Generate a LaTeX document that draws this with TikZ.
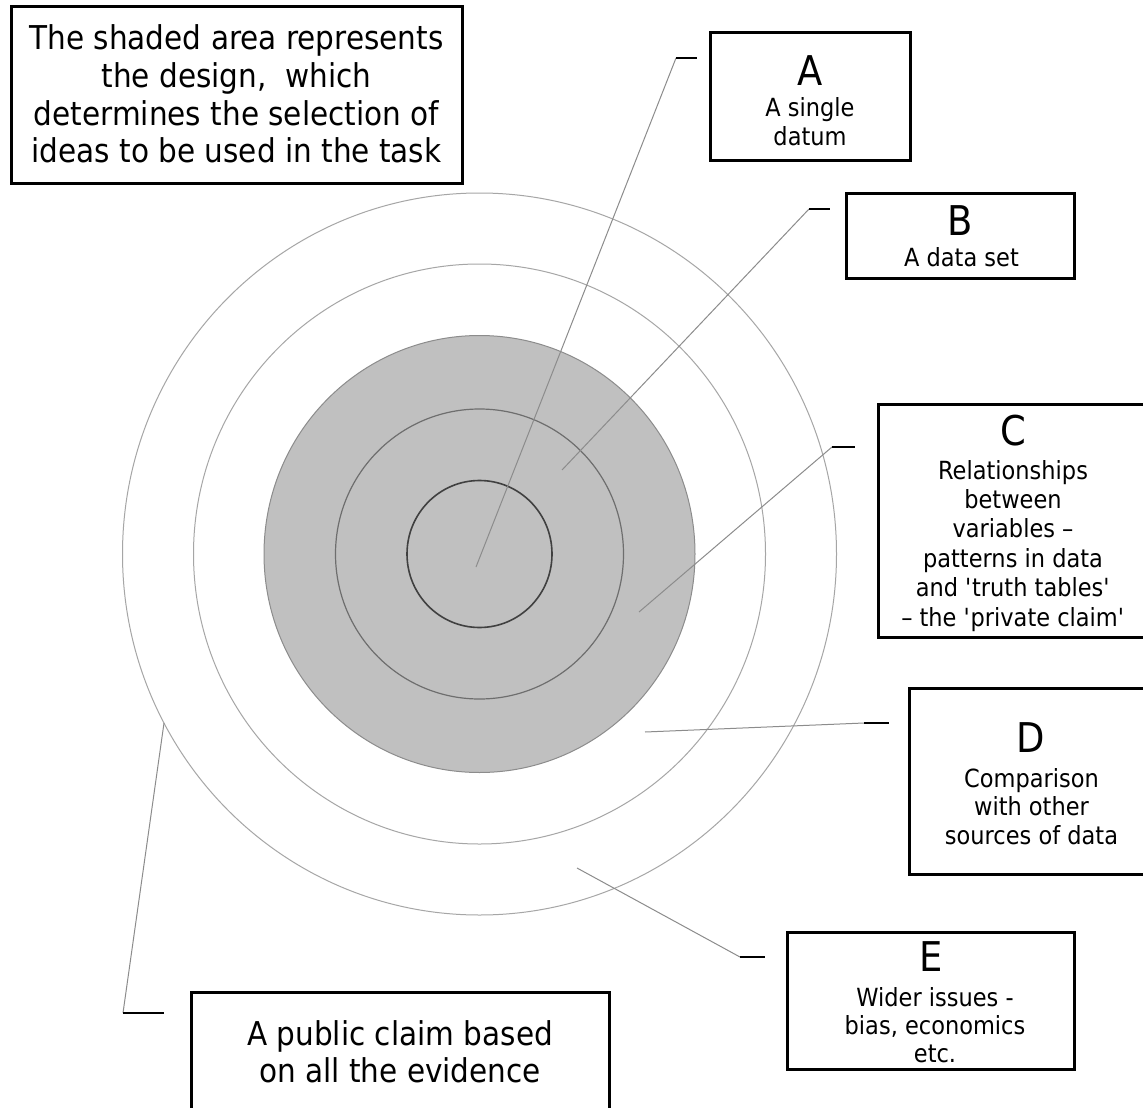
\documentclass[tikz,border=0pt]{standalone}
\usepackage{fontspec}
\setmainfont{DejaVu Sans}[FakeStretch=0.9]
\definecolor{ringouter}{HTML}{A6A6A6}
\definecolor{ringshade}{HTML}{8C8C8C}
\definecolor{ringmid}{HTML}{6E6E6E}
\definecolor{ringinner}{HTML}{404040}
\definecolor{shadefill}{HTML}{C0C0C0}
\definecolor{leadercol}{HTML}{8C8C8C}
\tikzset{
  labelbox/.style={draw=black, line width=3pt, inner sep=0pt, fill=none},
  leader/.style={draw=leadercol, line width=1pt},
  tickmark/.style={draw=black, line width=2.8pt},
  bigtxt/.style={anchor=base, inner sep=0pt, font=\fontsize{32.8}{37}\selectfont},
  lettertxt/.style={anchor=base, inner sep=0pt, font=\fontsize{41}{41}\selectfont},
  smalltxt/.style={anchor=base, inner sep=0pt, font=\fontsize{25}{29}\selectfont},
}
\begin{document}
\begin{tikzpicture}[x=1pt, y=-1pt]
\useasboundingbox (0,0) rectangle (1143,1108);
\clip (0,0) rectangle (1143,1108);
\fill[white] (0,0) rectangle (1143,1108);

% concentric rings
\coordinate (ctr) at (479.5,554);
\draw[ringouter, line width=1pt] (ctr) ellipse [x radius=357pt, y radius=361pt];
\draw[ringouter, line width=1pt] (ctr) ellipse [x radius=286pt, y radius=290pt];
\draw[ringshade, fill=shadefill, line width=1pt] (ctr) ellipse [x radius=215.5pt, y radius=218.5pt];
\draw[ringmid, line width=1.2pt] (ctr) ellipse [x radius=144pt, y radius=145pt];
\draw[ringinner, line width=1.6pt] (ctr) ellipse [x radius=72.5pt, y radius=73.5pt];

% boxes
\node[labelbox, minimum width=451pt, minimum height=176pt] (note) at (236.5,95) {};
\node[labelbox, minimum width=200pt, minimum height=127pt] (boxA) at (810,96.5) {};
\node[labelbox, minimum width=228pt, minimum height=85pt] (boxB) at (960,235.5) {};
\node[labelbox, minimum width=272pt, minimum height=233pt] (boxC) at (1014,520.5) {};
\node[labelbox, minimum width=243pt, minimum height=186pt] (boxD) at (1030.5,781) {};
\node[labelbox, minimum width=287pt, minimum height=137pt] (boxE) at (930.5,1000.5) {};
\node[labelbox, minimum width=418pt, minimum height=128pt] (boxP) at (400,1056) {};

% note text
\foreach \t [count=\i from 0] in {The shaded area represents, {the design,\ \ which}, determines the selection of, ideas to be used in the task}
  \node[bigtxt] (note-\i) at (236.5,{49.5+\i*37.8}) {\t};

% A
\node[lettertxt] (A-letter) at (810,85) {A};
\foreach \t [count=\i from 0] in {A single, datum}
  \node[smalltxt] (A-\i) at (810,{116.5+\i*28.5}) {\t};
% B
\node[lettertxt] (B-letter) at (960,235) {B};
\node[smalltxt] (B-0) at (961.5,266.5) {A data set};
% C
\node[lettertxt] (C-letter) at (1013,445) {C};
\foreach \t [count=\i from 0] in {Relationships, between, {variables –}, patterns in data, {and \textquotesingle truth tables\textquotesingle}, {– the \textquotesingle private claim\textquotesingle}}
  \node[smalltxt] (C-\i) at (1013,{479+\i*29.4}) {\t};
% D
\node[lettertxt] (D-letter) at (1031,752) {D};
\foreach \t [count=\i from 0] in {Comparison, with other, sources of data}
  \node[smalltxt] (D-\i) at (1031.5,{787+\i*28.6}) {\t};
% E
\node[lettertxt] (E-letter) at (931,971.5) {E};
\foreach \t [count=\i from 0] in {Wider issues -, {bias, economics}, etc.}
  \node[smalltxt] (E-\i) at (935,{1006.5+\i*27.8}) {\t};
% public claim
\foreach \t [count=\i from 0] in {A public claim based, on all the evidence}
  \node[bigtxt] (P-\i) at (400,{1045+\i*37}) {\t};

% leader lines
\coordinate (A-in) at (476,567);   \coordinate (A-bend) at (676,58);   \coordinate (A-end) at (697,58);
\coordinate (B-in) at (562,470);   \coordinate (B-bend) at (809,209);  \coordinate (B-end) at (830,209);
\coordinate (C-in) at (639,612);   \coordinate (C-bend) at (832,447);  \coordinate (C-end) at (855,447);
\coordinate (D-in) at (645,732);   \coordinate (D-bend) at (864,723);  \coordinate (D-end) at (889,723);
\coordinate (E-in) at (577,868);   \coordinate (E-bend) at (740,957);  \coordinate (E-end) at (765,957);
\coordinate (P-in) at (164,723);   \coordinate (P-bend) at (123,1013); \coordinate (P-end) at (164,1013);
\foreach \k in {A,B,C,D,E,P}{
  \draw[leader] (\k-in) -- (\k-bend);
  \draw[tickmark] (\k-bend) -- (\k-end);
}
\end{tikzpicture}
\end{document}
